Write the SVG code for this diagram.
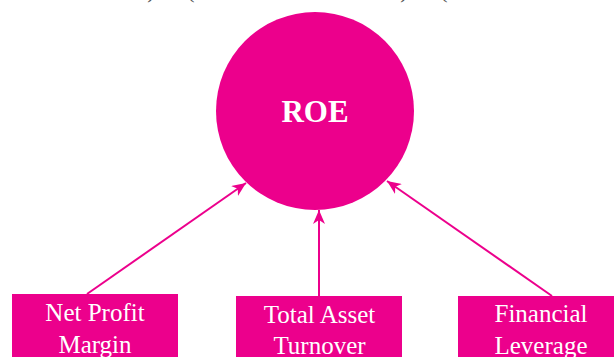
<svg xmlns="http://www.w3.org/2000/svg" width="614" height="357" viewBox="0 0 614 357">
<style>
.node{fill:#EC008C}
.lbl{font-family:"Liberation Serif","Times New Roman",serif;font-size:25px;fill:#fff;text-anchor:middle}
.title{font-family:"Liberation Serif","Times New Roman",serif;font-size:31px;font-weight:bold;fill:#fff;text-anchor:middle}
.edge{stroke:#EC008C;stroke-width:2;fill:none}
.frag{font-family:"Liberation Serif","Times New Roman",serif;font-size:22px;fill:#555;text-anchor:middle}
</style>
<defs>
<marker id="arr" viewBox="0 0 14 12" refX="14" refY="6" markerWidth="14" markerHeight="12" markerUnits="userSpaceOnUse" orient="auto">
<path d="M0,0 L14,6 L0,12 L4,6 z" fill="#EC008C"/>
</marker>
</defs>
<g id="fragments">
<text class="frag" x="151" y="-2">)</text>
<text class="frag" x="191" y="-2">(</text>
<text class="frag" x="404" y="-2">)</text>
<text class="frag" x="444" y="-2">(</text>
</g>
<g id="connectors">
<line class="edge" x1="87" y1="294" x2="246" y2="183" marker-end="url(#arr)"/>
<line class="edge" x1="319" y1="296" x2="319" y2="210" marker-end="url(#arr)"/>
<line class="edge" x1="552" y1="296" x2="387" y2="181" marker-end="url(#arr)"/>
</g>
<g id="roe">
<circle class="node" cx="315" cy="111" r="99"/>
<text class="title" x="315" y="122">ROE</text>
</g>
<g id="npm">
<rect class="node" x="12" y="294" width="166" height="70"/>
<text class="lbl" x="95" y="321">Net Profit</text>
<text class="lbl" x="95" y="353">Margin</text>
</g>
<g id="tat">
<rect class="node" x="236" y="296" width="166" height="70"/>
<text class="lbl" x="319.5" y="323">Total Asset</text>
<text class="lbl" x="319.5" y="354">Turnover</text>
</g>
<g id="fl">
<rect class="node" x="458" y="296" width="170" height="70"/>
<text class="lbl" x="541" y="322">Financial</text>
<text class="lbl" x="541" y="354">Leverage</text>
</g>
</svg>
